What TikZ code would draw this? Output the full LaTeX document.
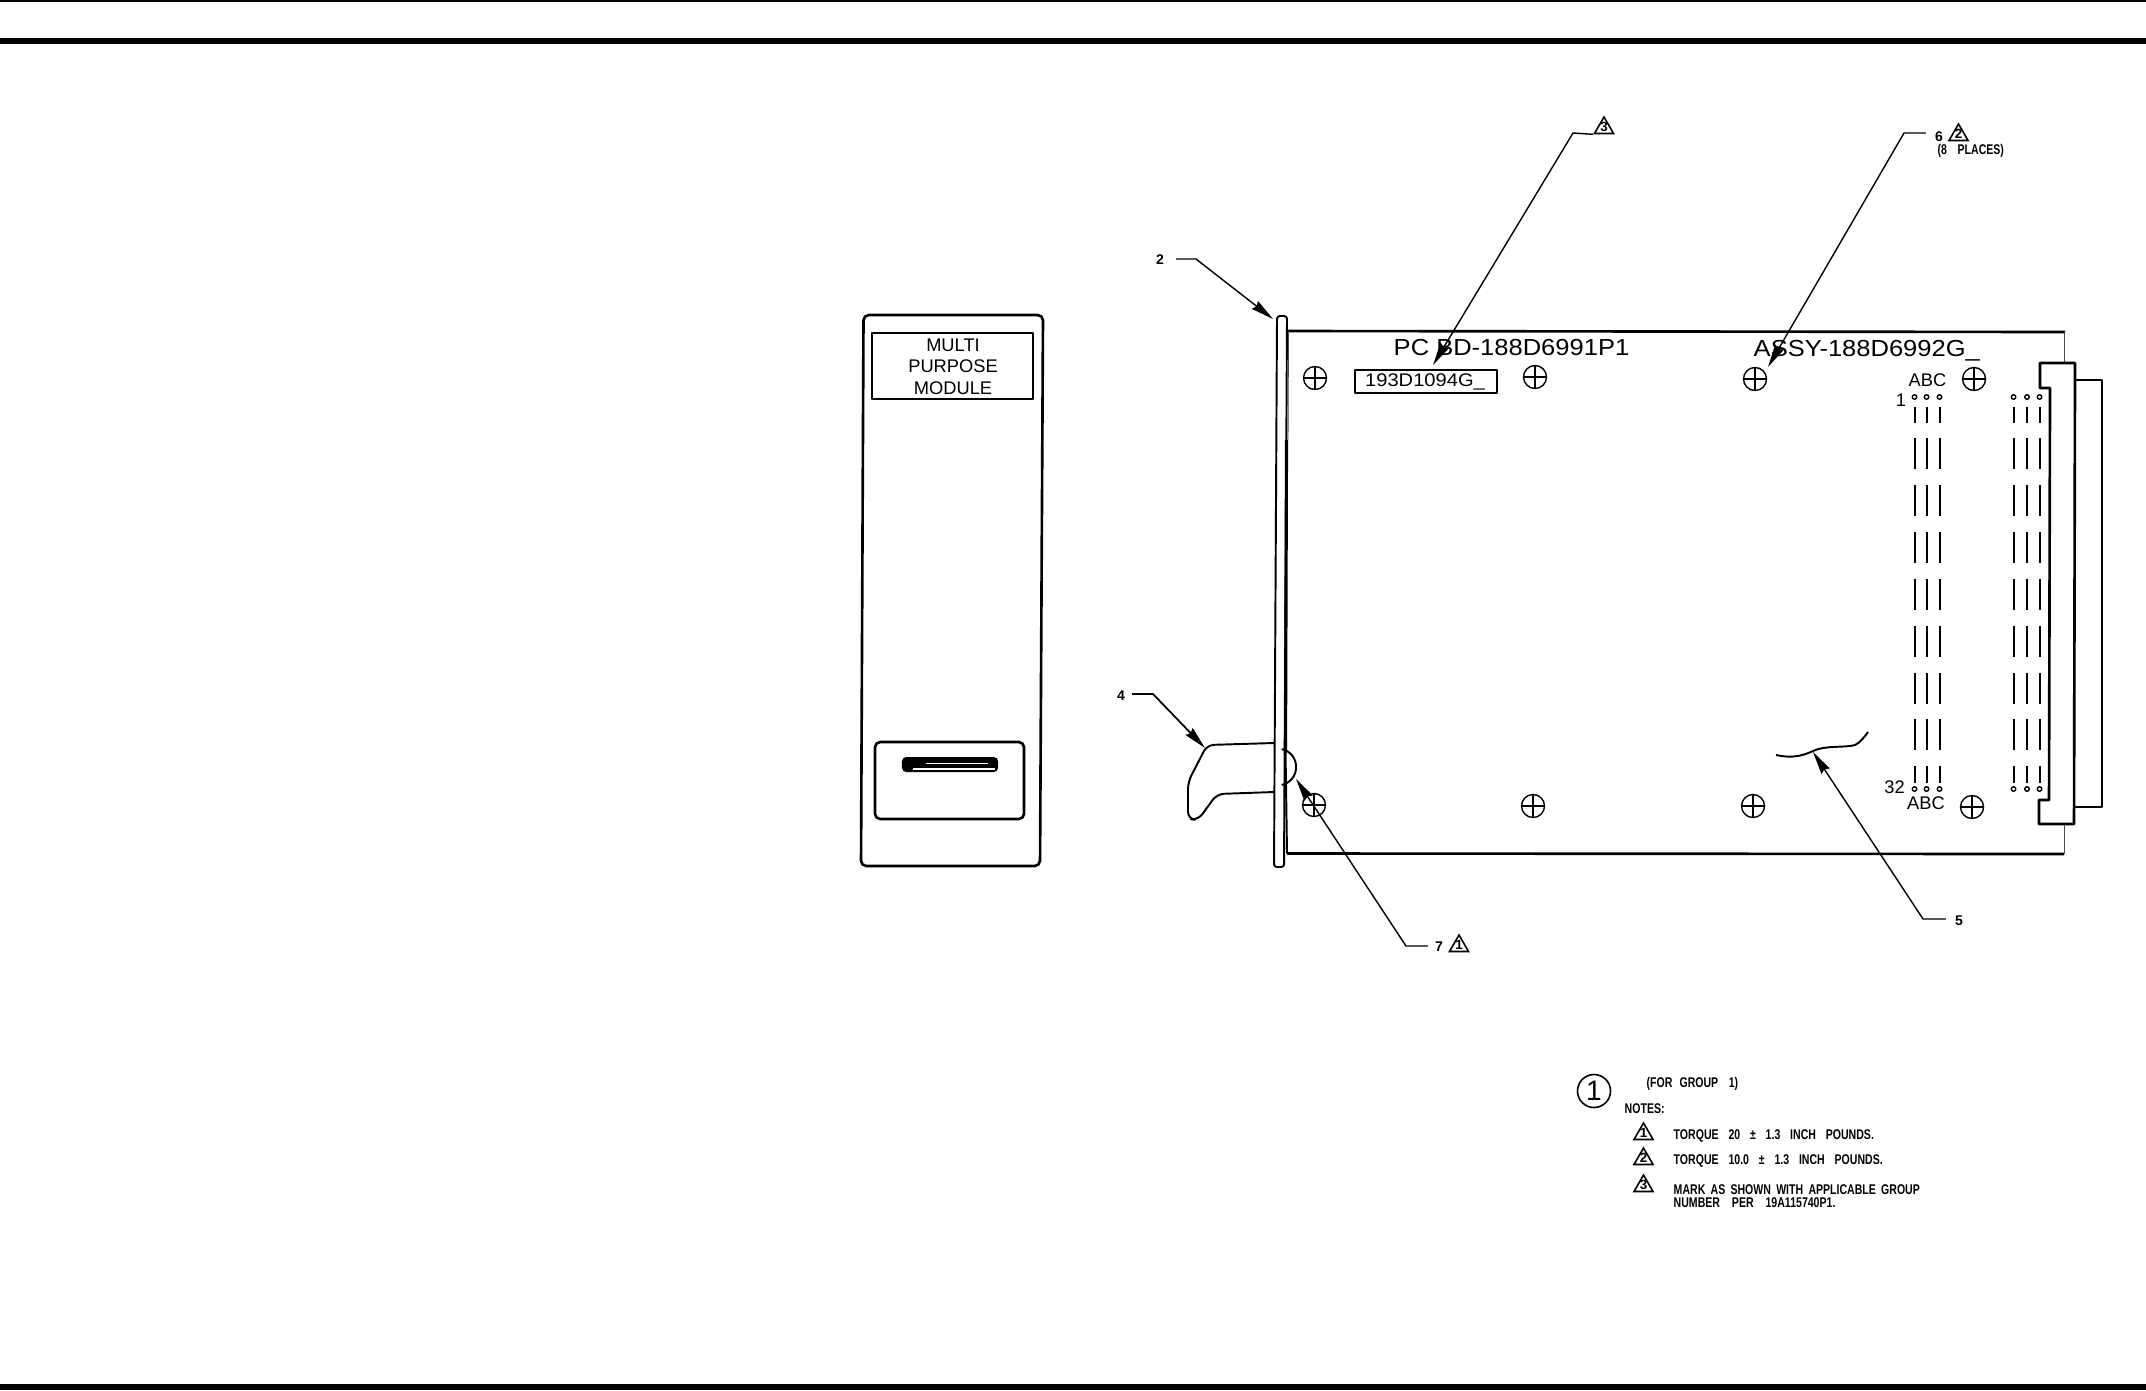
\documentclass[tikz,border=0pt]{standalone}
\usepackage{fontspec}
\setmainfont{Liberation Sans}
\newfontfamily\cadfont[FakeStretch=1.1]{Liberation Sans}
\newfontfamily\notefont[FakeStretch=0.75]{Liberation Sans}
\usetikzlibrary{shapes.geometric, arrows.meta, positioning, calc}
\newcommand{\trinum}[1]{\smash{\makebox[0pt]{\raisebox{-1.1pt}{#1}}}}

\begin{document}
\begin{tikzpicture}[
  x=0.01cm, y=-0.01cm,
  part/.style={line width=0.55pt, line join=round},
  heavy/.style={line width=0.75pt, line join=round},
  hair/.style={line width=0.25pt, black!70},
  leader/.style={line width=0.4pt, -{Stealth[length=6.5pt, width=2.8pt, inset=0.6pt]}},
  txt/.style={inner sep=0pt, font=\fontsize{5.2}{6}\selectfont},
  cad/.style={inner sep=0pt, font=\cadfont\fontsize{6.6}{7}\selectfont},
  item/.style={inner sep=1pt, font=\fontsize{4}{5}\selectfont\bfseries},
  note/.style={inner sep=0pt, font=\notefont\fontsize{4}{5}\selectfont\bfseries},
  tri/.style={draw, regular polygon, regular polygon sides=3, minimum size=0.22cm,
              inner sep=0pt, line width=0.45pt, font=\fontsize{3.8}{4}\selectfont\bfseries},
  screw/.style={draw, circle, minimum size=0.23cm, inner sep=0pt, line width=0.4pt},
  pin/.style={draw, circle, minimum size=0.045cm, inner sep=0pt, line width=0.4pt},
]
\useasboundingbox (0,0) rectangle (2146,1390);

% Page rules
\fill (0,0) rectangle (2146,2);
\fill (0,38) rectangle (2146,44);
\fill (0,1384) rectangle (2146,1390);

% Front view
\draw[heavy, rounded corners=1.5pt] (863.5,315) -- (1043,315) -- (1040,866) -- (861,866) -- cycle;
\node[draw, part, minimum width=1.61cm, minimum height=0.66cm] (plate) at (952.5,366) {};
\node[txt] (lineA) at (953,345.5) {MULTI};
\node[txt] (lineB) at (953,366.5) {PURPOSE};
\node[txt] (lineC) at (953,388) {MODULE};
\node[draw, heavy, rounded corners=1.5pt, minimum width=1.49cm, minimum height=0.77cm] (recess) at (949.5,780.5) {};
\node[fill=black, rounded corners=1.2pt, minimum width=0.96cm, minimum height=0.15cm, inner sep=0pt] (slot) at (950,764.5) {};
\draw[white, line width=0.3pt] (913,769) -- (995,769);
\draw[white, line width=0.25pt] (926,763.5) -- (988,763.5);

% Side view, panel and board
\draw[part, rounded corners=0.8pt] (1277,316) -- (1287,316) -- (1284,867) -- (1274,867) -- cycle;
\draw[heavy] (1288,331) -- (2065,332);
\draw[heavy] (1287,853.5) -- (2064,854);
\draw[hair] (1288.5,331) -- (1288,440);
\draw[line width=0.9pt] (1286.5,440) -- (1285.5,750);
\draw[part] (1285.5,750) -- (1287,853.5);
\draw[hair] (2064.5,332) -- (2064.5,363);
\draw[hair] (2064,825) -- (2064,854);

% Connector
\draw[heavy] (2040,363) -- (2075,363) -- (2074,824) -- (2039,824) -- (2039,800)
  -- (2049,800) -- (2050,388) -- (2040,388) -- cycle;
\draw[heavy] (2075,380) -- (2102,380) -- (2102,807) -- (2074,807);

% Pins, three and three
\foreach \px in {1914.5, 1926.5, 1939.5, 2013.5, 2027, 2039.5} {
  \draw[part] (\px,407) -- (\px,423);
  \draw[part] (\px,766) -- (\px,783);
  \foreach \k in {0,...,6} {
    \draw[part] (\px,438+46.9*\k) -- (\px,469+46.9*\k);
  }
  \node[pin] (pt\px) at (\px,397) {};
  \node[pin] (pb\px) at (\px,789) {};
}

% Mounting screws
\foreach \nm/\sx/\sy in {a/1315/378, b/1535/377, c/1755/379, d/1974/379,
                         e/1314/805, f/1533/806, g/1753/806, h/1972/807} {
  \node[screw] (scr\nm) at (\sx,\sy) {};
  \draw[line width=0.4pt] (scr\nm.north) -- (scr\nm.south) (scr\nm.west) -- (scr\nm.east);
}

% Board markings
\node[cad, anchor=base west] (pcbd) at (1393,355.5) {PC BD-188D6991P1};
\node[cad, anchor=base west] (assy) at (1753,356.5) {ASSY-188D6992G\_};
\node[draw, part, minimum width=1.42cm, minimum height=0.23cm] (grpbox) at (1426,381.5) {};
\node[cad, font=\cadfont\fontsize{5.2}{6}\selectfont] (grptxt) at (1425,381.5) {193D1094G\_};
\node[txt] (abcT) at (1927.5,380) {ABC};
\node[txt] (abcB) at (1926,803) {ABC};
\node[txt] (one) at (1901,400) {1};
\node[txt] (thirtytwo) at (1894.5,787) {32};

% Handle and latch
\draw[part, rounded corners=2pt] (1274,743) -- (1207,745) -- (1188,782) -- (1188,819) -- (1198,820)
  -- (1217,794) -- (1274,792);
\draw[part, rounded corners=4pt] (1286,750) -- (1296,752) -- (1296,782) -- (1286,784);

% Break line
\draw[part] (1776,755) .. controls (1790,758) and (1800,757) .. (1813,751)
  .. controls (1825,745) and (1845,748) .. (1855,745)
  .. controls (1860,743) and (1865,736) .. (1868,732);

% Callouts
\node[item] (lab2) at (1160,260) {2};
\coordinate (elb2) at (1196,259);
\coordinate (tip2) at (1273,319);
\draw[leader] (lab2.east |- elb2) ++(8,0) -- (elb2) -- (tip2);

\node[tri] (tri3) at (1604,128) {\trinum{3}};
\coordinate (elb3) at (1573,133);
\coordinate (tip3) at (1433,365);
\draw[leader] (tri3.corner 2) -- (elb3) -- (tip3);

\node[item] (lab4) at (1121,696) {4};
\coordinate (elb4) at (1153,694);
\coordinate (tip4) at (1205,748);
\draw[leader, line width=0.5pt] (lab4.east |- elb4) ++(3,0) -- (elb4) -- (tip4);

\node[item] (lab5) at (1959,921) {5};
\coordinate (elb5) at (1923,919);
\coordinate (tip5) at (1813,752);
\draw[leader] (lab5.west |- elb5) ++(-5,0) -- (elb5) -- (tip5);

\node[item] (lab6) at (1939,137) {6};
\node[tri] (tri6) at (1958.5,135) {\trinum{2}};
\node[note, anchor=west] (places) at (1937,151) {(8\hspace{3pt}PLACES)};
\coordinate (elb6) at (1904,133);
\coordinate (tip6) at (1768,367);
\draw[leader] (lab6.west |- elb6) ++(-5,0) -- (elb6) -- (tip6);

\node[item] (lab7) at (1439,947) {7};
\node[tri] (tri7) at (1459,946) {\trinum{1}};
\coordinate (elb7) at (1406,946);
\coordinate (tip7) at (1296,779);
\draw[leader] (lab7.west |- elb7) ++(-3,0) -- (elb7) -- (tip7);

% Notes
\node[draw, circle, minimum size=0.33cm, inner sep=0pt, line width=0.45pt,
      font=\fontsize{8}{9}\selectfont] (sheet) at (1594,1091) {1};
\node[note, anchor=west] (group) at (1646,1084) {(FOR\hspace{2pt}GROUP\hspace{3pt}1)};
\node[note, anchor=west] (notes) at (1624,1109) {NOTES:};

\node[tri] (note1) at (1643.5,1134) {\trinum{1}};
\node[tri] (note2) at (1643.5,1159) {\trinum{2}};
\node[tri] (note3) at (1643.5,1186) {\trinum{3}};
\node[note, anchor=west] (textA) at (1673,1136) {TORQUE\hspace{2.8pt}20\hspace{2.8pt}±\hspace{2.8pt}1.3\hspace{2.8pt}INCH\hspace{2.8pt}POUNDS.};
\node[note, anchor=west] (textB) at (1673,1161) {TORQUE\hspace{2.8pt}10.0\hspace{2.8pt}±\hspace{2.8pt}1.3\hspace{2.8pt}INCH\hspace{2.8pt}POUNDS.};
\node[note, anchor=west] (textC) at (1673,1190) {MARK \,AS \,SHOWN \,WITH \,APPLICABLE \,GROUP};
\node[note, anchor=west] (textD) at (1673,1203) {NUMBER\hspace{3.4pt}PER\hspace{3.4pt}19A115740P1.};
\end{tikzpicture}
\end{document}
